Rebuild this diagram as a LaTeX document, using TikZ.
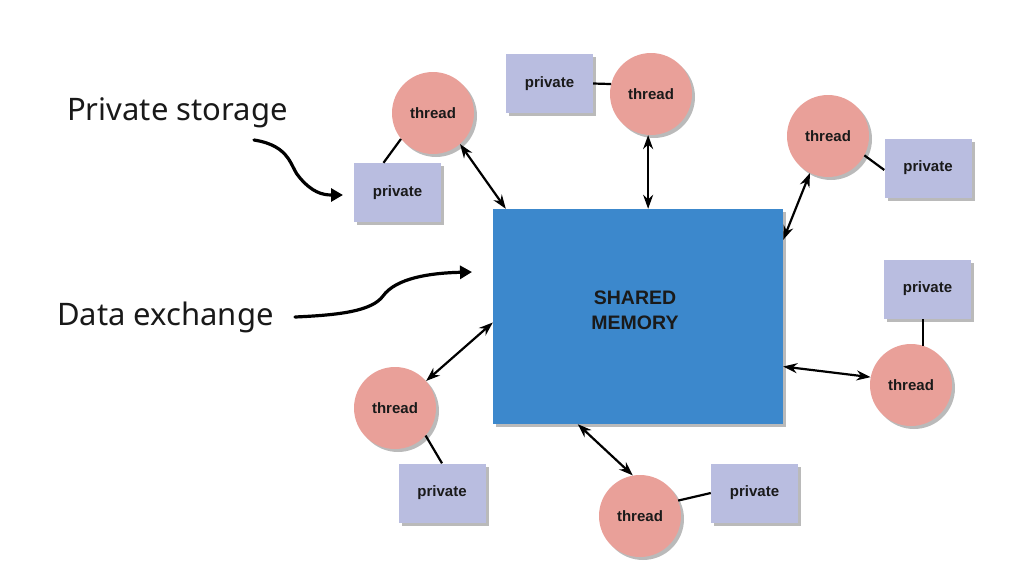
\documentclass[tikz,border=0pt]{standalone}
\usepackage{fontspec}
\setmainfont{Liberation Sans}
\newfontfamily\labelfont{Noto Sans}
\usetikzlibrary{shadows,arrows.meta}
\definecolor{threadc}{HTML}{E9A099}
\definecolor{privc}{HTML}{B9BDE0}
\definecolor{memc}{HTML}{3C88CC}
\definecolor{inkc}{HTML}{1A1A1A}
\begin{document}
\begin{tikzpicture}[x=1pt,y=-1pt,
  shad/.style={drop shadow={shadow xshift=3pt,shadow yshift=-3pt,opacity=0.45,fill=black!60}},
  thr/.style={circle,fill=threadc,minimum size=82pt,inner sep=0pt,text=inkc,
    font=\bfseries\fontsize{15}{17}\selectfont,shad},
  prv/.style={rectangle,fill=privc,minimum width=87pt,minimum height=59pt,inner sep=0pt,text=inkc,
    font=\bfseries\fontsize{15}{17}\selectfont,shad},
  mem/.style={rectangle,fill=memc,minimum width=290pt,minimum height=215pt,inner sep=0pt,shad},
  memtext/.style={align=center,inner sep=0pt,text=inkc,font=\bfseries\fontsize{19.5}{25}\selectfont},
  link/.style={line width=2.2pt,black},
  dbl/.style={{Stealth[length=14pt,width=10pt]}-{Stealth[length=14pt,width=10pt]},line width=2.2pt},
  callout/.style={-{Triangle[length=12pt,width=13pt]},line width=3.2pt,line cap=round},
  lbl/.style={font=\labelfont\fontsize{31}{36}\selectfont,text=black!90,inner sep=0pt}
]
\useasboundingbox (0,0) rectangle (1034,568);

% shared memory
\node[mem] (mem) at (638,316.5) {};
\node[memtext] (mt) at ([xshift=-3pt,yshift=6pt]mem.center) {SHARED\\MEMORY};

% threads
\node[thr] (T1) at (433,113) {thread};
\node[thr] (T2) at (651,94) {thread};
\node[thr] (T3) at (828,136) {thread};
\node[thr] (T4) at (911,385) {thread};
\node[thr] (T5) at (395,408) {thread};
\node[thr] (T6) at (640,516) {thread};

% private boxes
\node[prv] (P1) at (397.5,192.5) {private};
\node[prv] (P2) at (549.5,83.5) {private};
\node[prv] (P3) at (928,168) {private};
\node[prv] (P4) at (927.5,289) {private};
\node[prv] (P5) at (442,493) {private};
\node[prv] (P6) at (754.5,493) {private};

% thread -- private links
\draw[link] (T1.219) -- ([xshift=-14pt]P1.north);
\draw[link] (P2.east) -- (T2.166);
\draw[link] (T3.-28) -- ([yshift=-2pt]P3.west);
\draw[link] (T4.73) -- (T4.73 |- P4.south);
\draw[link] (T5.-42) -- (P5.north);
\draw[link] (T6.22) -- (P6.west);

% thread <-> memory
\draw[dbl] (T1.-49) -- ([xshift=13pt]mem.north west);
\draw[dbl] (T2.-94) -- (T2.-94 |- mem.north);
\draw[dbl] (T3.-116) -- ([yshift=-31pt]mem.north east);
\draw[dbl] (T4.169) -- ([yshift=-50pt]mem.east);
\draw[dbl] (T5.41) -- ([yshift=-6pt]mem.west);
\draw[dbl] (T6.100) -- ([xshift=85pt]mem.south west);

% labels
\node[lbl,anchor=west] (ps) at (67,113) {Private storage};
\node[lbl,anchor=west] (de) at (57,317) {Data exchange};

\coordinate (ps1) at (254,140);
\coordinate (ps2) at (343,195);
\draw[callout] (ps1) .. controls (292,146) and (290,168) .. (300,178)
  .. controls (312,192) and (322,195) .. (ps2);

\coordinate (de1) at (295,317);
\coordinate (de2) at (472,272);
\draw[callout] (de1) .. controls (340,315) and (372,311) .. (383,296)
  .. controls (396,278) and (430,273) .. (de2);
\end{tikzpicture}
\end{document}
